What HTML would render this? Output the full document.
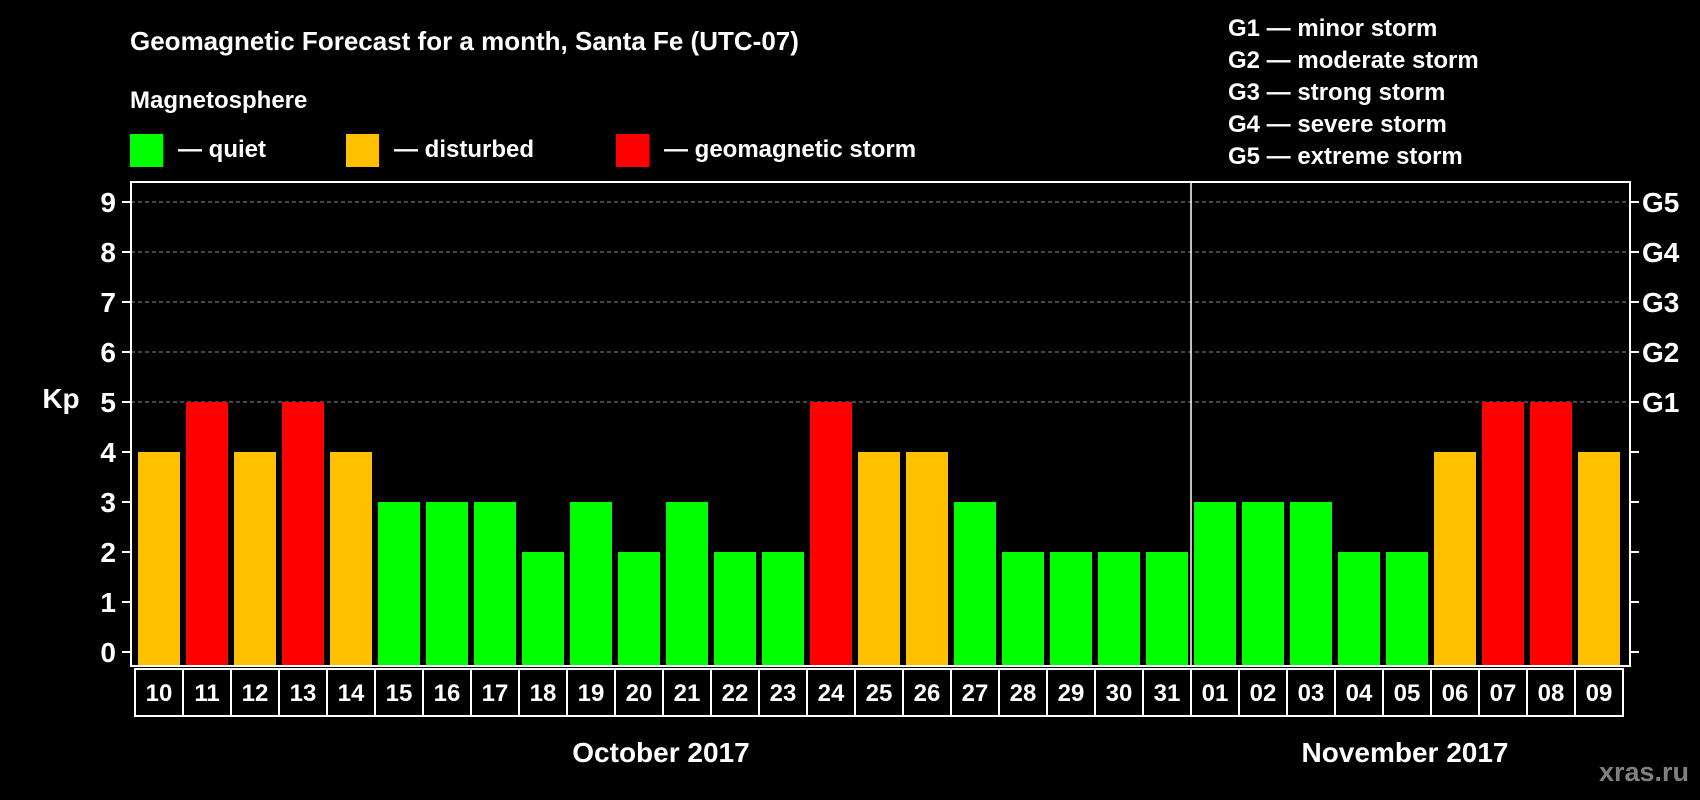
<!DOCTYPE html>
<html><head><meta charset="utf-8"><style>
html,body{margin:0;padding:0;background:#000;}
svg{display:block;font-family:"Liberation Sans",Arial,sans-serif;font-weight:bold;}
</style></head><body>
<svg id="chart" width="1700" height="800" viewBox="0 0 1700 800">
<rect x="0" y="0" width="1700" height="800" fill="#000"/>
<text x="130" y="50" fill="#fff" font-size="26">Geomagnetic Forecast for a month, Santa Fe (UTC-07)</text>
<text x="130" y="108" fill="#fff" font-size="24">Magnetosphere</text>
<g>
<rect x="130" y="134" width="33" height="33" fill="#00ff00"/>
<text x="178" y="157" fill="#fff" font-size="24">— quiet</text></g>
<g>
<rect x="346" y="134" width="33" height="33" fill="#ffc000"/>
<text x="394" y="157" fill="#fff" font-size="24">— disturbed</text></g>
<g>
<rect x="616" y="134" width="33" height="33" fill="#ff0000"/>
<text x="664" y="157" fill="#fff" font-size="24">— geomagnetic storm</text></g>
<g font-size="24" fill="#fff">
<text x="1228" y="36">G1 — minor storm</text>
<text x="1228" y="68">G2 — moderate storm</text>
<text x="1228" y="100">G3 — strong storm</text>
<text x="1228" y="132">G4 — severe storm</text>
<text x="1228" y="164">G5 — extreme storm</text>
</g>
<text x="61" y="408" fill="#fff" font-size="28" text-anchor="middle">Kp</text>
<g id="grid"></g><g id="bars"></g><g id="axes"></g><g id="dates"></g>
<text x="661" y="762" fill="#fff" font-size="28" text-anchor="middle">October 2017</text>
<text x="1405" y="762" fill="#fff" font-size="28" text-anchor="middle">November 2017</text>
<text x="1689" y="781" fill="#808080" font-size="27" text-anchor="end">xras.ru</text>
</svg>
<script>
const days = ["10","11","12","13","14","15","16","17","18","19","20","21","22","23","24","25","26","27","28","29","30","31","01","02","03","04","05","06","07","08","09"];
const kpValues = [4,5,4,5,4,3,3,3,2,3,2,3,2,2,5,4,4,3,2,2,2,2,3,3,3,2,2,4,5,5,4];
const yTicks = [0,1,2,3,4,5,6,7,8,9];
const gLabels = ["G1","G2","G3","G4","G5"];
const gLevels = [5,6,7,8,9];
const monthBreakIndex = 22;

const NS = "http://www.w3.org/2000/svg";
const plotL = 131, plotR = 1630, plotT = 182, plotB = 666;
const slot0 = 135, slotW = 48, barPad = 3;
function yScale(v){ return 652 - v * 50; }
function xSlot(i){ return slot0 + i * slotW; }
function colorFor(v){ return v >= 5 ? "#ff0000" : (v >= 4 ? "#ffc000" : "#00ff00"); }
function mk(tag, attrs, parent){ const e = document.createElementNS(NS, tag); for (const k in attrs) e.setAttribute(k, attrs[k]); parent.appendChild(e); return e; }

const grid = document.getElementById("grid");
gLevels.forEach(v => {
  const l = mk("line", {x1: plotL, x2: plotR, y1: yScale(v), y2: yScale(v), stroke: "#8a8a8a", "stroke-width": 1, "stroke-dasharray": "4,3"}, grid);
  
  
});

const bars = document.getElementById("bars");
kpValues.forEach((v, i) => {
  const r = mk("rect", {x: xSlot(i) + barPad, y: yScale(v), width: slotW - 2 * barPad, height: plotB - yScale(v), fill: colorFor(v)}, bars);
  
  
});

const axes = document.getElementById("axes");
const frame = mk("rect", {x: plotL, y: plotT, width: plotR - plotL, height: plotB - plotT, fill: "none", stroke: "#fff", "stroke-width": 2}, axes);


const div = mk("line", {x1: xSlot(monthBreakIndex), x2: xSlot(monthBreakIndex), y1: plotT, y2: plotB, stroke: "#fff", "stroke-width": 1.5}, axes);


yTicks.forEach(v => {
  const y = yScale(v);
  const t1 = mk("line", {x1: 122, x2: plotL, y1: y, y2: y, stroke: "#fff", "stroke-width": 2}, axes);
  
  
  const t2 = mk("line", {x1: plotR, x2: plotR + 9, y1: y, y2: y, stroke: "#fff", "stroke-width": 2}, axes);
  
  
  const tx = mk("text", {x: 116, y: y + 10, fill: "#fff", "font-size": 28, "text-anchor": "end"}, axes);
  tx.textContent = v;
  
  
});
gLabels.forEach((g, i) => {
  const tx = mk("text", {x: 1642, y: yScale(gLevels[i]) + 10, fill: "#fff", "font-size": 28}, axes);
  tx.textContent = g;
  
  
});

const dates = document.getElementById("dates");
const dateTop = 669, dateBot = 716;
days.forEach((d, i) => {
  const r = mk("rect", {x: xSlot(i), y: dateTop, width: slotW, height: dateBot - dateTop, fill: "#000", stroke: "#fff", "stroke-width": 2}, dates);
  
  
  const t = mk("text", {x: xSlot(i) + slotW / 2, y: 701, fill: "#fff", "font-size": 24, "text-anchor": "middle"}, dates);
  t.textContent = d;
  
  
});
</script>
</body></html>
